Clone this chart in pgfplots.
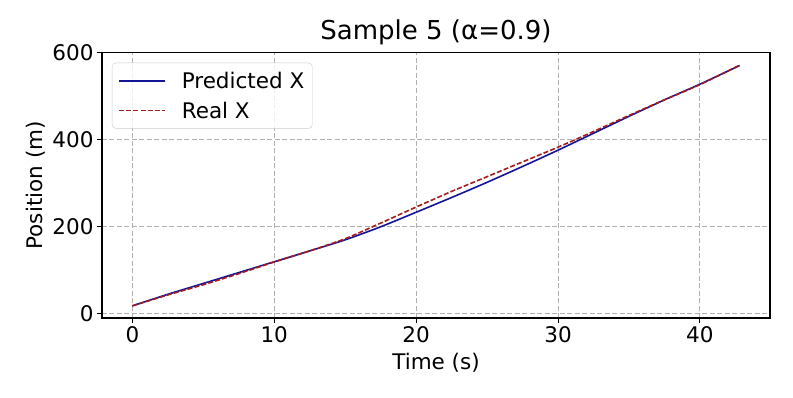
\documentclass[border=0pt]{standalone}
\usepackage{pgfplots}
\pgfplotsset{compat=1.18}
\usepackage{fontspec}
\setmainfont{DejaVu Sans}

\definecolor{predblue}{RGB}{20,20,150}
\definecolor{realred}{RGB}{165,28,28}
\definecolor{gridgray}{RGB}{176,176,176}

\newcommand{\ticksize}{\fontsize{21.5pt}{25pt}\selectfont}
\newcommand{\titlesize}{\fontsize{26pt}{30pt}\selectfont}

\begin{document}
\begin{tikzpicture}
  % fixes the page to the reference's 793x397 frame
  \path[use as bounding box] (-102pt,-79pt) rectangle (691pt,318pt);
  \begin{axis}[
      at={(0pt,0pt)}, anchor=south west,
      width=668pt, height=265.3pt,
      scale only axis,
      xmin=-2.14, xmax=44.94,
      ymin=-10.6, ymax=600.6,
      xtick={0,10,20,30,40},
      ytick={0,200,400,600},
      tick pos=left,
      tick align=outside,
      major tick length=5pt,
      every tick/.style={black, line width=1pt},
      axis line style={line width=1.2pt},
      grid=major,
      major grid style={gridgray, dash pattern=on 5pt off 2.5pt, line width=1pt},
      tick label style={font=\ticksize},
      /pgf/number format/assume math mode=true,
      label style={font=\ticksize},
      xlabel={Time (s)},
      xlabel style={yshift=-4pt},
      ylabel={Position (m)},
      title={Sample 5 (α=0.9)},
      title style={font=\titlesize, yshift=-2pt},
      legend style={at={(0,1)}, anchor=north west, xshift=10pt, yshift=-10pt,
        draw=gray!40, rounded corners=4pt, fill=white, fill opacity=0.8,
        draw opacity=1, text opacity=1, font=\ticksize, row sep=8pt,
        inner xsep=6pt, inner ysep=7pt,
        /tikz/every odd column/.append style={column sep=14pt}},
      legend cell align=left,
      legend image code/.code={\draw[#1, opacity=1] (0pt,0pt) -- (46pt,0pt);},
    ]
    % predicted
    \addplot[predblue, line width=1.6pt, smooth, tension=0.4] coordinates {
      (0,17.4) (2.5,44) (5,69) (7.5,94) (10,119) (12.5,144) (15,169.5)
      (17.5,199.5) (20,233) (22.5,267) (25,302) (27.5,338.5) (30,376)
      (32.5,415) (35,454) (37.5,492) (40,528) (42.8,571)
    };
    \addlegendentry{Predicted X}
    % real
    \addplot[realred, line width=1.6pt, dash pattern=on 5pt off 2.2pt, smooth, tension=0.4] coordinates {
      (0,17.4) (2.5,42.5) (5,66) (7.5,91.5) (10,118.5) (12.5,144) (15,172)
      (17.5,208) (20,245) (22.5,281) (25,315) (27.5,349) (30,383)
      (32.5,419) (35,456) (37.5,492) (40,527) (42.8,572)
    };
    \addlegendentry{Real X}
  \end{axis}
\end{tikzpicture}
\end{document}
